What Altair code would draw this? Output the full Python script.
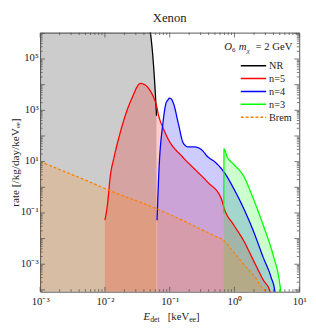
import altair as alt
import pandas as pd

SERIF = "Liberation Serif"
W, H = 266, 266

series_names = ["NR", "n=5", "n=4", "n=3", "Brem"]
series_colors = ["#000000", "#ff0000", "#0000ff", "#00ff00", "#ff8000"]
series_dash = [[1, 0], [1, 0], [1, 0], [1, 0], [3, 2]]

nr_E = [0.001, 0.01, 0.03, 0.048, 0.0501, 0.0555, 0.0615, 0.0626]
nr_R = [1e9, 1e8, 1e7, 3e6, 1.26e6, 9.2e4, 1.5e3, 620]

n5_E = [0.01, 0.0109, 0.0121, 0.0139, 0.0171, 0.0218, 0.0278, 0.031, 0.0354, 0.0406,
        0.0483, 0.0555, 0.0615, 0.0684, 0.0785, 0.0967, 0.157, 0.246, 0.386, 0.627,
        0.695, 0.982, 1.39, 1.96, 2.78, 3.54, 3.8]
n5_R = [0.052, 0.193, 2.69, 15.5, 127, 955, 4270, 7900, 11200, 10200,
        6620, 3550, 1790, 550, 215, 69, 15.5, 4.96, 1.58, 0.356,
        0.148, 0.0334, 0.0082, 1.42e-3, 2.45e-4, 8.5e-5, 1e-5]

n4_E = [0.0638, 0.0684, 0.0785, 0.0871, 0.0933, 0.100, 0.107, 0.115, 0.136, 0.162,
        0.193, 0.246, 0.313, 0.386, 0.492, 0.695, 0.982, 1.39, 1.96, 2.78,
        3.66, 4.21, 4.5]
n4_R = [0.052, 4.96, 306, 1790, 2500, 2990, 2700, 1790, 306, 53,
        37.3, 37.3, 28.7, 15.5, 10, 3.81, 0.857, 0.148, 0.0197, 1.85e-3,
        3.2e-4, 8.5e-5, 1e-5]

n3_E = [0.684, 0.69, 0.771, 0.982, 1.39, 1.96, 2.78, 3.93, 5.0, 5.18, 5.4]
n3_R = [0.095, 31.3, 15.5, 7.7, 2.69, 0.356, 0.0334, 2.4e-3, 1.74e-4, 8.5e-5, 1e-5]

br_E = [0.001, 0.00546, 0.0113, 0.0617, 0.492, 0.695, 0.982, 1.39, 1.96, 2.78, 3.08, 3.4]
br_R = [10, 1.73, 0.785, 0.148, 0.0127, 8.2e-3, 2.86e-3, 1e-3, 3.8e-4, 1.12e-4, 8.5e-5, 1e-5]

x_major = [1e-3, 1e-2, 1e-1, 1, 10]
x_minor = [k * 10.0 ** d for d in range(-3, 1) for k in range(2, 10)]
y_major = [10.0 ** d for d in range(-4, 7)]
y_minor = [k * 10.0 ** d for d in range(-5, 6) for k in range(2, 10) if 8.5e-5 < k * 10.0 ** d < 1.07e6]
x_label_vals = [-3, -2, -1, 0, 1]
y_label_vals = [-3, -1, 1, 3, 5]

rows = []
for name, (es, rs) in zip(series_names, [(nr_E, nr_R), (n5_E, n5_R), (n4_E, n4_R), (n3_E, n3_R), (br_E, br_R)]):
    for e, r in zip(es, rs):
        rows.append({"series": name, "E": e, "R": r})
df = pd.DataFrame(rows)

sup = {"0": "⁰", "1": "¹", "2": "²", "3": "³", "4": "⁴", "5": "⁵", "6": "⁶",
       "7": "⁷", "8": "⁸", "9": "⁹", "-": "⁻"}


def lbl(exps):
    e = "''"
    for k in reversed(exps):
        s = "10" + "".join(sup[c] for c in str(k))
        e = f"(round(log(datum.value)/LN10)=={k}) ? '{s}' : {e}"
    return e


xscale = alt.Scale(type="log", domain=[1e-3, 10], nice=False)
yscale = alt.Scale(type="log", domain=[8.5e-5, 1.07e6], nice=False)
cscale = alt.Scale(domain=series_names, range=series_colors)
dscale = alt.Scale(domain=series_names, range=series_dash)

xenc = alt.X("E:Q", scale=xscale, title=None,
             axis=alt.Axis(values=[10.0 ** k for k in x_label_vals], labelExpr=lbl(x_label_vals),
                           ticks=False, domain=False, grid=False, labelFont=SERIF,
                           labelFontSize=11, labelColor="#222", labelPadding=4, labelFlush=False))
yenc = alt.Y("R:Q", scale=yscale, stack=None, title="rate [/kg/day/keVₑₑ]",
             axis=alt.Axis(values=[10.0 ** k for k in y_label_vals], labelExpr=lbl(y_label_vals),
                           ticks=False, domain=False, grid=False, labelFont=SERIF,
                           labelFontSize=11, labelColor="#222", labelPadding=2, labelOffset=-1,
                           titleFont=SERIF, titleFontSize=11.5, titleFontWeight="normal",
                           titleColor="#222", titlePadding=0, labelFlush=False))

areas = alt.Chart(df).mark_area(fillOpacity=0.2, clip=True, interpolate="monotone").encode(
    x=xenc, y=yenc, y2=alt.value(H),
    fill=alt.Fill("series:N", scale=cscale, legend=None),
)

lines = alt.Chart(df).mark_line(strokeWidth=1.3, clip=True, interpolate="monotone").encode(
    x=alt.X("E:Q", scale=xscale),
    y=alt.Y("R:Q", scale=yscale),
    stroke=alt.Stroke("series:N", scale=cscale, legend=None),
    strokeDash=alt.StrokeDash("series:N", scale=dscale, legend=None),
    order=alt.Order("E:Q"),
)

TICK = "#555"


def xticks(vals, length):
    d = pd.DataFrame({"E": vals})
    b = alt.Chart(d).mark_rule(color=TICK, strokeWidth=0.8).encode(
        x=alt.X("E:Q", scale=xscale), y=alt.value(H), y2=alt.value(H - length))
    t = alt.Chart(d).mark_rule(color=TICK, strokeWidth=0.8).encode(
        x=alt.X("E:Q", scale=xscale), y=alt.value(0), y2=alt.value(length))
    return b + t


def yticks(vals, length):
    d = pd.DataFrame({"R": vals})
    l = alt.Chart(d).mark_rule(color=TICK, strokeWidth=0.8).encode(
        y=alt.Y("R:Q", scale=yscale), x=alt.value(0), x2=alt.value(length))
    r = alt.Chart(d).mark_rule(color=TICK, strokeWidth=0.8).encode(
        y=alt.Y("R:Q", scale=yscale), x=alt.value(W), x2=alt.value(W - length))
    return l + r


one = pd.DataFrame({"a": [0]})


def txt(s, x, y, size=11, style="normal", align="left"):
    return alt.Chart(one).mark_text(text=s, x=x, y=y, fontSize=size, fontStyle=style,
                                    align=align, baseline="alphabetic", font=SERIF, color="#222")


annot = (txt("O", 189, 18, style="italic") + txt("6", 197, 20, size=7)
         + txt("m", 204, 18, style="italic") + txt("χ", 212, 21, size=7, style="italic")
         + txt("= 2 GeV", 259, 18, align="right"))

xtitle = (txt("E", 106, 295, style="italic") + txt("det", 113, 297, size=8)
          + txt("[keV", 153, 295, align="right") + txt("ee", 153, 297, size=8) + txt("]", 160, 295))

# legend (layout only): one swatch + label per series
legend_layers = []
for i, (name, col, dash) in enumerate(zip(series_names, series_colors, series_dash)):
    ly = 34 + 13.2 * i
    legend_layers.append(
        alt.Chart(one).mark_rule(color=col, strokeWidth=1.5, strokeDash=dash).encode(
            x=alt.value(206), x2=alt.value(232), y=alt.value(ly)))
    legend_layers.append(txt(name, 235, ly + 3.5, size=10.5))

chart = alt.layer(
    areas, lines,
    xticks(x_major, 5), xticks(x_minor, 2.5), yticks(y_major, 5), yticks(y_minor, 2.5),
    annot, xtitle, *legend_layers,
).properties(
    width=W, height=H,
    title=alt.TitleParams("Xenon", font=SERIF, fontSize=13, fontWeight="normal",
                          color="#222", anchor="middle", offset=8),
    padding={"left": 33, "top": 21, "right": 9, "bottom": 34},
    autosize=alt.AutoSizeParams(type="none"),
).configure_view(stroke="#555", strokeWidth=1)

chart.save("out.html", embed_options={"renderer": "svg", "actions": False})
